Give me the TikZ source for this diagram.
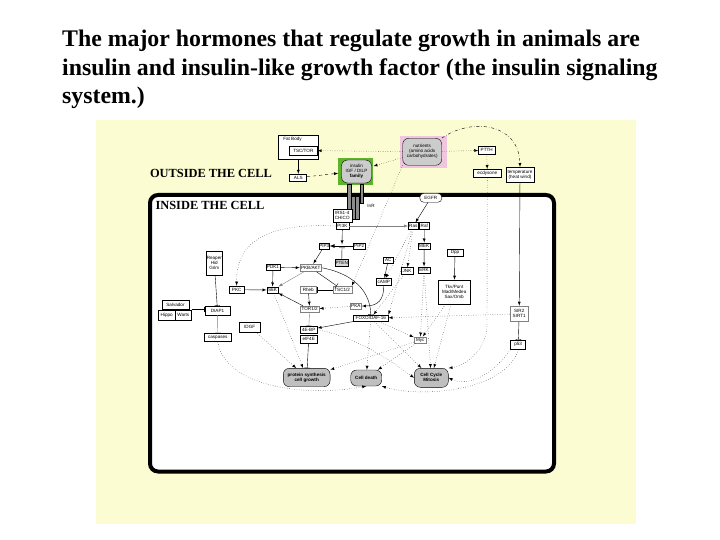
\documentclass[tikz,border=0pt]{standalone}
\usepackage{fontspec}
\setmainfont{Liberation Serif}
\newfontfamily\diagfont{Liberation Sans}
\usetikzlibrary{positioning}
\definecolor{bgyellow}{RGB}{252,252,210}
\definecolor{ligandgreen}{RGB}{92,180,40}
\definecolor{nutripink}{RGB}{240,198,222}
\newcommand\dfont{\diagfont\fontsize{4.6}{5}\selectfont}

\begin{document}
\begin{tikzpicture}[x=1pt,y=-1pt,>=latex,
    box/.style 2 args={draw,fill=white,minimum width=#1pt,minimum height=#2pt,
      inner sep=0pt,font=\dfont,align=center},
    dk/.style={line width=0.7pt},
    lt/.style={draw=black!50},
    outcome/.style 2 args={draw,fill=black!25,rounded corners=6pt,minimum width=#1pt,
      minimum height=#2pt,inner sep=0pt,align=center,font=\dfont\bfseries},
    lbl/.style={inner sep=0pt,font=\dfont},
    bar/.style={draw,fill=black!45,line width=0.3pt}]
  \useasboundingbox (0,0) rectangle (720,540);

  % the title
  \node[anchor=north west,align=left,inner sep=0pt,
        font=\fontsize{23.8}{28.6}\selectfont\bfseries] (title) at (62,30)
    {The major hormones that regulate growth in animals are\\
     insulin and insulin-like growth factor (the insulin signaling\\
     system.)};

  % the yellow sheet and the cell
  \fill[bgyellow] (96,120) rectangle (636,524);
  \draw[line width=4pt,fill=white,rounded corners=8pt] (150,195) rectangle (554,471.5);
  \node[inner sep=0pt,font=\fontsize{12.4}{13}\selectfont\bfseries] (outside) at (211,173) {OUTSIDE THE CELL};
  \node[inner sep=0pt,font=\fontsize{12.4}{13}\selectfont\bfseries] (inside) at (210,205.5) {INSIDE THE CELL};

  % outside the cell
  \node[box={40}{24}] (fatbody) at (298.3,147.2) {};
  \node[lbl,below right=1.5pt and 5pt of fatbody.north west] (fatlbl) {Fat Body};
  \node[box={28}{9},dk] (tsctor) at (303.3,150.5) {TSC/TOR};
  \node[box={17}{7},dk] (als) at (298.3,177.7) {ALS};
  \node[fill=ligandgreen,minimum width=35pt,minimum height=27pt] (ligand) at (355.8,171.3) {};
  \node[outcome={30}{23},fill=black!20,font=\dfont] (insulin) at (356.5,171.5) {insulin\\IGF / DILP\\\textbf{family}};
  \node[fill=nutripink,minimum width=47pt,minimum height=32pt] (nutripad) at (423,152.5) {};
  \node[outcome={39}{27},fill=black!20,font=\dfont] (nutrients) at (422.2,151.8) {nutrients\\(amino acids\\carbohydrates)};
  \node[box={16.5}{7.3}] (ptth) at (486.7,150.3) {PTTH};
  \node[box={28.5}{8.4}] (ecdysone) at (487.3,173.4) {ecdysone};
  \node[box={27.5}{15}] (temp) at (520,174.7) {temperature\\(heat wind)};

  % the insulin receptor
  \draw[bar] (346.7,184) rectangle (351,213);
  \draw[bar] (360,184) rectangle (363.3,203);
  \draw[bar] (351.3,196) rectangle (354.9,219);
  \draw[bar] (355.1,196) rectangle (358.7,219);
  \node[lbl] (inr) at (371,206) {InR};
  \node[outcome={22}{9},fill=white,rounded corners=4pt,font=\dfont] (egfr) at (430.8,197.8) {EGFR};

  % inside the cell
  \node[box={19}{13}] (irs) at (342.2,215.8) {IRS1-4\\CHICO};
  \node[box={13.3}{6.6}] (pi3k) at (342.4,226) {PI3K};
  \node[box={10}{6.6}] (ras) at (413.3,226) {Ras};
  \node[box={10}{6.6}] (raf) at (424.3,226) {Raf};
  \node[box={10}{6.6}] (pip3) at (324.3,246) {PIP3};
  \node[box={11.7}{6.6}] (pip2) at (359.2,246) {PIP2};
  \node[box={13.3}{7.4},dk,fill=black!15] (pten) at (341.7,263) {PTEN};
  \node[box={21.7}{7.7},lt] (pkb) at (310.8,267.8) {PKB/AKT};
  \node[box={10}{6}] (ac) at (388.3,259.7) {AC};
  \node[box={15.7}{6.7}] (camp) at (383.8,281.6) {cAMP};
  \node[box={12.6}{6.7}] (jnk) at (407,270.7) {JNK};
  \node[box={11.7}{6.6}] (mek) at (424.2,246) {MEK};
  \node[box={12}{6.6}] (erk) at (424,270) {ERK};
  \node[box={19}{7.3},lt] (tsc) at (342.2,289.7) {TSC1/2};
  \node[box={16.7}{7.3},lt] (rheb) at (308.3,289.7) {Rheb};
  \node[box={19.3}{6.7},lt] (tor) at (309.7,309.3) {TOR1/2};
  \node[box={11.7}{6.6},lt] (pka) at (355.8,306) {PKA};
  \node[box={35}{6.7}] (foxo) at (370.8,318.3) {FOXO/DAF-16};
  \node[box={17.3}{7.3}] (ebp) at (308.7,329.7) {4E-BP};
  \node[box={17.3}{7.7},dk] (eif) at (308.7,339) {eIF4E};
  \node[box={11.6}{6.6}] (s6k) at (272.5,290) {S6K};
  \node[box={14.7}{7.3},dk] (pkc) at (236.7,289.7) {PKC};
  \node[box={14}{6.7}] (pdk) at (273,267.3) {PDK1};
  \node[box={16.7}{23.3}] (reaper) at (214.3,263.3) {Reaper\\Hid\\Grim};
  \node[box={25}{9}] (diap) at (217.5,310.5) {DIAP1};
  \node[box={27.6}{8.3}] (salvador) at (175.5,304.8) {Salvador};
  \node[box={16.7}{10}] (hippo) at (166.7,315) {Hippo};
  \node[box={16.7}{10}] (warts) at (183.3,315) {Warts};
  \node[box={27.7}{8.4},dk] (caspases) at (217.8,337.5) {caspases};
  \node[box={20.7}{10}] (idgf) at (249.7,326.7) {IDGF};
  \node[box={12.7}{6.6},lt] (myc) at (420.3,340) {Myc};
  \node[box={15.4}{7.7}] (dpp) at (455,252.8) {Dpp};
  \node[box={31.7}{24},dk] (tkv) at (454.2,292) {Tkv/Punt\\Mad/Medea\\Sax/Omb};
  \node[box={18.3}{15.7},lt] (sir) at (519.2,313.8) {SIR2\\SIRT1};
  \node[box={15}{9.3},dk] (p53) at (518.2,344.7) {p53};
  \node[outcome={46.7}{18.4}] (protein) at (306.7,377.5) {protein synthesis\\cell growth};
  \node[outcome={31}{16}] (death) at (366.2,378) {Cell death};
  \node[outcome={34}{19}] (cycle) at (431.3,377.8) {Cell Cycle\\Mitosis};

  % free ends on the PIP line and behind the Hippo pair
  \coordinate (piptop) at (342,244.4);
  \coordinate (pipbot) at (342,247.6);
  \coordinate (hw) at (191.7,309.5);

  % outside signals
  \draw[->] (fatbody) -- (als);
  \draw[->,dashed] (als) -- (ligand);
  \draw[->,dotted] (nutrients) -- (tsctor);
  \draw[->,dotted] (nutrients) -- (ligand);
  \draw[->,dotted] (nutrients) -- (ptth);
  \draw[->,dotted] (ptth) -- (ecdysone);
  \draw[->,dash dot] (nutrients.north east) .. controls (470,118) and (519,122) .. (temp.north);
  \draw[->] (temp) -- (sir);
  \draw[-|] (sir) -- (p53);

  % solid links
  \draw[->] (egfr) -- (ras);
  \draw[->,black!50] (pi3k) -- (ras);
  \draw[->] (pi3k) -- (piptop);
  \draw[->,thick] (pip2) -- (pip3);
  \draw[-|] (pten) -- (pipbot);
  \draw[->] (pip3) -- (pkb);
  \draw[->] (pdk) -- (pkb);
  \draw[->] (pdk) -- (s6k);
  \draw[->] (pkc) -- (s6k);
  \draw[->,black!50] (pkb) -- (s6k);
  \draw[->] (tor) -- (s6k);
  \draw[-|] (pkb) -- (tsc);
  \draw[-|] (pkb.east) .. controls (345,272) and (370,285) .. (foxo.north);
  \draw[->] (ac) -- (camp);
  \draw[->] (camp.south) .. controls (384,300) and (378,306) .. (pka.east);
  \draw[-|] (tsc) -- (rheb);
  \draw[->] (rheb) -- (tor);
  \draw[-|,black!50] (tor) -- (ebp);
  \draw[->] (foxo) -- (ebp);
  \draw[-|] (eif) -- (protein);
  \draw[->] (raf) -- (mek);
  \draw[->] (mek) -- (erk);
  \draw[->] (dpp) -- (tkv);
  \draw[-|] (reaper) -- (diap);
  \draw[-|] (hw) -- (diap.west |- hw);
  \draw[-|,black!50] (diap) -- (caspases);

  % dotted links
  \draw[->,dotted] (pi3k.west) .. controls (255,222) and (236,250) .. (pkc.north);
  \draw[->,dotted] (nutrients.south west) -- (tsc.north east);
  \draw[->,dotted] (ecdysone.south) -- (487,325) .. controls (487,350) and (465,366) .. (cycle.north east);
  \draw[->,dotted] (pka) -- (tor);
  \draw[->,dotted] (ras) -- (jnk);
  \draw[->,dotted] (ras) -- (camp);
  \draw[->,dotted] (ras) -- (foxo.north east);
  \draw[->,dotted] (jnk) -- (foxo);
  \draw[->,dotted] (erk) -- (myc);
  \draw[->,dotted] (erk) -- (cycle);
  \draw[->,dotted] (tkv) -- (myc);
  \draw[->,dotted] (tkv) -- (cycle);
  \draw[->,dotted] (sir) -- (foxo);
  \draw[->,dotted] (foxo) -- (death);
  \draw[->,dotted] (foxo) -- (myc);
  \draw[->,dotted] (foxo) -- (cycle);
  \draw[->,dotted] (ebp.east) .. controls (360,338) and (392,362) .. (cycle.west);
  \draw[->,dotted] (myc) -- (protein);
  \draw[->,dotted] (myc) -- (death);
  \draw[->,dotted] (s6k) -- (protein);
  \draw[->,dotted] (idgf) -- (protein);
  \draw[->,dotted] (caspases.south) .. controls (225,385) and (300,398) .. (death.south);
  \draw[->,dotted] (p53.south) .. controls (505,392) and (420,398) .. (death.south east);
  \draw[->,dotted] (p53.south west) .. controls (495,372) and (470,388) .. (cycle.east);
\end{tikzpicture}
\end{document}
